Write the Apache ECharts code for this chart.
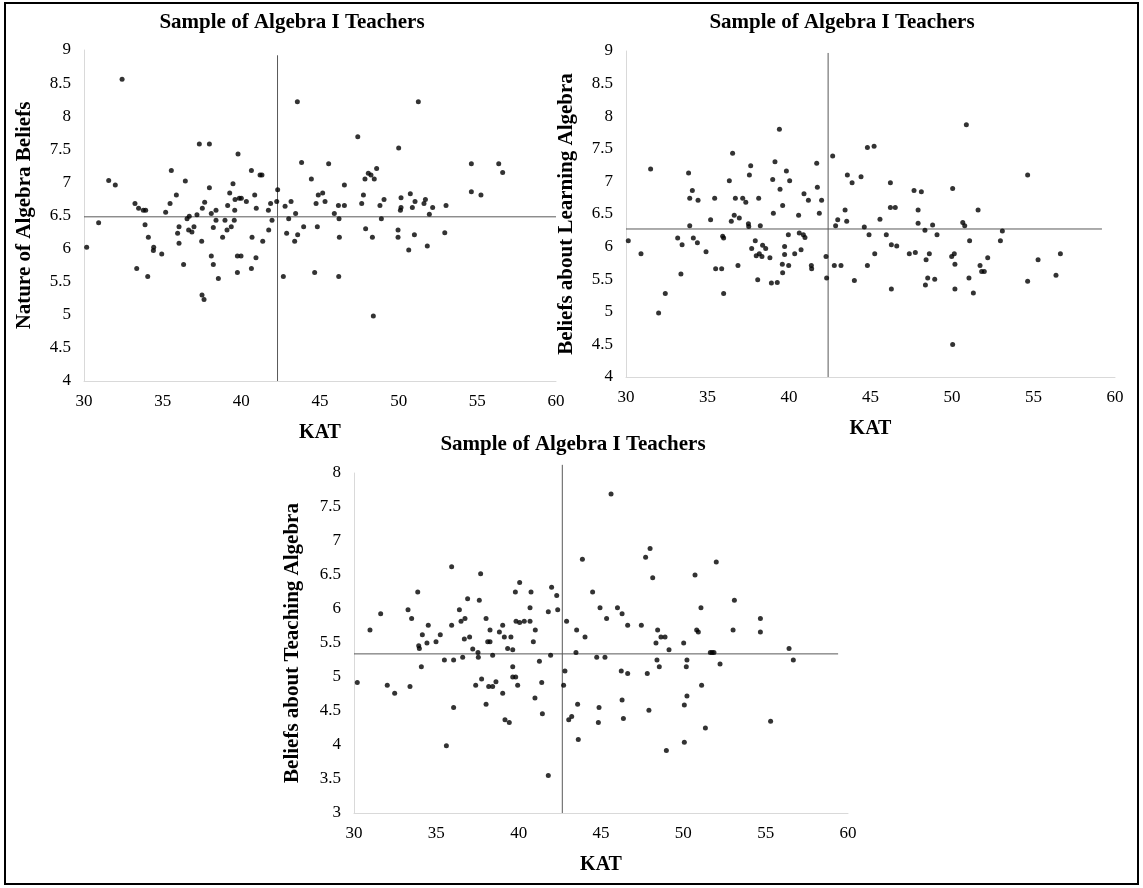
<!DOCTYPE html>
<html>
<head>
<meta charset="utf-8">
<title>Sample of Algebra I Teachers</title>
<script src="https://cdn.jsdelivr.net/npm/echarts@6/dist/echarts.min.js"></script>
<style>
  html, body { margin: 0; padding: 0; background: #fff; }
  #chart { width: 1143px; height: 888px; }
</style>
</head>
<body>
<div id="chart"></div>
<script>
// [KAT, score] pairs
var nature = [
  [30.17,6.02],[30.93,6.39],[32.42,8.56],[31.57,7.03],[31.99,6.96],[33.24,6.68],[33.47,6.61],[33.77,6.58],[33.92,6.58],[33.88,6.36],
  [34.09,6.17],[34.43,6.02],[34.41,5.97],[34.94,5.92],[33.35,5.70],[34.05,5.58],[35.19,6.55],[35.47,6.68],[35.55,7.18],[35.87,6.81],
  [36.44,7.02],[36.04,6.33],[35.95,6.23],[36.04,6.08],[36.33,5.76],[36.55,6.45],[36.69,6.49],[36.65,6.28],[36.86,6.25],[36.99,6.33],
  [37.18,6.51],[37.33,7.58],[37.97,7.58],[37.97,6.92],[37.67,6.70],[37.52,6.61],[37.48,6.11],[37.50,5.30],[37.63,5.23],[38.09,6.53],
  [38.39,6.58],[38.39,6.43],[38.22,6.32],[38.09,5.89],[38.22,5.76],[38.54,5.55],[38.81,6.17],[38.96,6.43],[39.09,6.28],[39.13,6.65],
  [39.26,6.84],[39.47,6.98],[39.36,6.33],[39.55,6.43],[39.58,6.58],[39.60,6.74],[39.79,7.43],[39.87,6.76],[40.00,6.76],[39.75,5.89],
  [39.98,5.89],[39.75,5.64],[40.32,6.71],[40.64,7.18],[40.68,6.17],[40.64,5.70],[40.85,6.81],[41.19,7.11],[41.31,7.11],[40.95,6.61],
  [40.93,5.86],[41.36,6.11],[41.72,6.58],[41.86,6.68],[41.95,6.43],[41.74,6.28],[42.31,6.89],[42.25,6.71],[42.67,5.58],[42.78,6.64],
  [43.01,6.45],[43.16,6.71],[42.88,6.23],[43.56,8.22],[43.45,6.53],[43.39,6.11],[43.58,6.21],[43.83,7.30],[43.96,6.33],[44.45,7.05],
  [44.75,6.68],[44.89,6.81],[45.17,6.84],[45.32,6.71],[44.83,6.33],[44.66,5.64],[45.55,7.28],[45.91,6.53],[46.17,6.65],[46.21,6.45],
  [46.23,6.17],[46.19,5.58],[46.55,6.65],[46.55,6.96],[47.40,7.69],[47.86,7.05],[48.07,7.14],[48.24,7.11],[48.45,7.05],[48.60,7.21],
  [47.76,6.81],[47.65,6.68],[48.81,6.65],[49.07,6.74],[48.90,6.45],[47.90,6.30],[48.33,6.17],[48.39,4.98],[50.00,7.52],[50.15,6.77],
  [50.15,6.62],[50.11,6.58],[49.96,6.28],[49.96,6.17],[50.74,6.83],[51.04,6.71],[50.87,6.62],[50.64,5.98],[51.25,8.22],[51.00,6.21],
  [51.61,6.68],[51.70,6.74],[51.95,6.52],[52.16,6.62],[51.82,6.04],[53.01,6.65],[52.93,6.24],[54.62,7.28],[54.62,6.86],[55.23,6.81],
  [56.36,7.28],[56.61,7.15]
];

var learning = [
  [30.14,6.09],[30.92,5.89],[31.51,7.19],[32.00,4.98],[32.41,5.28],[33.37,5.58],[33.17,6.13],[33.44,6.03],[33.84,7.13],[34.07,6.86],
  [33.91,6.74],[34.42,6.71],[33.91,6.32],[34.13,6.13],[34.38,6.06],[34.91,5.92],[35.19,6.41],[35.44,6.74],[35.93,6.16],[35.99,6.13],
  [35.50,5.66],[35.87,5.66],[35.99,5.28],[36.34,7.01],[36.54,7.43],[36.46,6.39],[36.64,6.48],[36.71,6.74],[36.95,6.44],[36.87,5.71],
  [37.16,6.74],[37.35,6.68],[37.51,6.35],[37.53,6.31],[37.57,7.10],[37.65,7.24],[38.14,6.74],[38.24,6.32],[37.93,6.09],[37.71,5.97],
  [37.99,5.86],[38.18,5.89],[38.38,6.02],[38.34,5.85],[38.57,5.97],[38.83,5.83],[38.08,5.49],[38.92,5.44],[39.00,7.03],[39.14,7.30],
  [39.04,6.51],[39.28,5.45],[39.41,7.80],[39.45,6.88],[39.61,6.63],[39.59,5.73],[39.61,5.60],[39.73,6.00],[39.73,5.88],[39.84,7.16],
  [40.04,7.01],[39.96,6.18],[39.98,5.71],[40.35,5.89],[40.59,6.48],[40.63,6.21],[40.74,5.95],[40.88,6.18],[40.92,6.81],[40.98,6.14],
  [41.19,6.71],[41.37,5.71],[41.39,5.66],[41.70,7.28],[41.74,6.91],[41.86,6.51],[42.00,6.71],[42.27,5.85],[42.31,5.52],[42.68,7.39],
  [42.86,6.32],[42.99,6.41],[42.78,5.71],[43.19,5.71],[43.44,6.56],[43.54,6.39],[43.58,7.10],[43.87,6.98],[44.01,5.48],[44.42,7.07],
  [44.81,7.52],[45.22,7.54],[44.62,6.30],[44.91,6.18],[44.81,5.71],[45.26,5.89],[45.58,6.42],[45.97,6.18],[46.22,6.98],[46.22,6.60],
  [46.52,6.60],[46.28,6.03],[46.61,6.01],[46.28,5.35],[47.38,5.89],[47.75,5.91],[47.67,6.86],[48.12,6.84],[47.92,6.56],[47.92,6.36],
  [48.34,6.25],[48.81,6.33],[49.08,6.18],[48.61,5.89],[48.41,5.80],[48.51,5.52],[48.94,5.50],[48.37,5.41],[50.04,6.89],[50.66,6.37],
  [50.78,6.32],[50.88,7.87],[49.98,5.85],[50.14,5.89],[50.18,5.73],[50.18,5.35],[51.08,6.09],[51.04,5.52],[51.31,5.29],[51.60,6.56],
  [51.72,5.71],[51.82,5.62],[51.98,5.62],[52.19,5.83],[52.97,6.09],[53.09,6.24],[54.64,7.10],[54.64,5.47],[55.28,5.80],[56.38,5.56],
  [56.65,5.89],[50.04,4.50]
];

var teaching = [
  [30.20,4.92],[30.97,5.69],[31.62,5.93],[32.02,4.88],[32.47,4.76],[33.28,5.99],[33.40,4.86],[33.50,5.86],[33.87,6.25],[33.93,5.46],
  [33.97,5.42],[34.09,5.15],[34.15,5.62],[34.43,5.50],[34.51,5.76],[34.98,5.52],[35.24,5.62],[35.49,5.25],[35.61,3.99],[35.93,6.62],
  [35.93,5.76],[36.05,5.25],[36.05,4.55],[36.40,5.99],[36.50,5.82],[36.60,5.29],[36.74,5.86],[36.70,5.56],[36.90,6.15],[37.02,5.59],
  [37.21,5.41],[37.39,4.88],[37.53,5.36],[37.55,5.29],[37.61,6.13],[37.69,6.52],[37.75,4.97],[38.02,5.86],[38.02,4.60],[38.12,5.52],
  [38.26,5.52],[38.26,5.69],[38.18,4.86],[38.42,5.32],[38.42,4.86],[38.62,4.93],[38.83,5.66],[39.03,5.76],[39.03,4.76],[39.13,5.59],
  [39.17,4.37],[39.43,4.33],[39.33,5.42],[39.53,5.59],[39.64,5.40],[39.64,5.15],[39.64,5.00],[39.82,5.00],[39.94,4.88],[39.80,6.25],
  [40.06,6.39],[39.84,5.82],[40.06,5.80],[40.34,5.82],[40.69,5.82],[40.75,6.25],[40.69,6.02],[40.89,5.52],[41.01,5.69],[40.99,4.69],
  [41.26,5.23],[41.40,4.92],[41.44,4.46],[41.80,5.96],[42.00,6.32],[42.31,6.20],[42.37,5.99],[41.94,5.32],[42.81,5.09],[42.73,4.88],
  [42.91,5.82],[43.48,5.36],[43.52,5.69],[43.04,4.37],[43.22,4.42],[43.58,4.60],[43.62,4.08],[41.80,3.55],[45.61,7.69],[43.87,6.73],
  [44.03,5.59],[44.49,6.25],[44.94,6.02],[45.34,5.86],[44.74,5.29],[45.24,5.29],[44.88,4.55],[44.84,4.33],[46.00,6.02],[46.28,5.93],
  [46.62,5.76],[46.23,5.09],[46.62,5.05],[46.28,4.66],[46.36,4.39],[47.45,5.76],[47.71,6.76],[47.98,6.89],[48.14,6.46],[47.81,5.05],
  [47.91,4.51],[48.44,5.69],[48.34,5.50],[48.64,5.59],[48.89,5.59],[49.13,5.40],[48.40,5.25],[48.54,5.15],[48.97,3.92],[50.02,5.50],
  [50.22,5.25],[50.18,5.15],[50.22,4.72],[50.06,4.59],[50.06,4.04],[50.71,6.50],[51.07,6.02],[50.81,5.69],[50.91,5.66],[51.11,4.88],
  [51.34,4.25],[51.64,5.36],[51.75,5.36],[51.86,5.36],[52.00,6.69],[52.23,5.19],[53.10,6.13],[53.02,5.69],[54.68,5.86],[54.68,5.66],
  [55.30,4.35],[56.42,5.42],[56.68,5.25]
];

// mean reference lines of each panel
var meanKat = [42.3, 42.4, 42.65];
var meanScore = [6.48, 6.27, 5.34];
var vLineTop = [8.92, 8.97, 8.12];
var hLineEnd = [60, 59.2, 59.4];

var yNames = ['Nature of Algebra Beliefs', 'Beliefs about Learning Algebra', 'Beliefs about Teaching Algebra'];
var yMin = [4, 4, 3];
var yMax = [9, 9, 8];
var panels = [nature, learning, teaching];

var serif = "'Liberation Serif', 'Times New Roman', Times, serif";

var chart = echarts.init(document.getElementById('chart'));

var xAxes = [], yAxes = [], series = [];
panels.forEach(function (pts, i) {
  xAxes.push({
    gridIndex: i, type: 'value', min: 30, max: 60, interval: 5,
    name: 'KAT', nameLocation: 'middle', nameGap: 42,
    nameTextStyle: {fontFamily: serif, fontWeight: 'bold', fontSize: 20, color: '#000'},
    axisLine: {onZero: false, lineStyle: {color: '#d9d9d9', width: 1}},
    axisTick: {show: false},
    splitLine: {show: false},
    axisLabel: {fontFamily: serif, fontSize: 17, color: '#000', margin: 12}
  });
  yAxes.push({
    gridIndex: i, type: 'value', min: yMin[i], max: yMax[i], interval: 0.5,
    name: yNames[i], nameLocation: 'middle', nameGap: i == 2 ? 51 : 49,
    nameTextStyle: {fontFamily: serif, fontWeight: 'bold', fontSize: 21, color: '#000'},
    axisLine: {show: true, onZero: false, lineStyle: {color: '#d9d9d9', width: 1}},
    axisTick: {show: false},
    splitLine: {show: false},
    axisLabel: {fontFamily: serif, fontSize: 17, color: '#000', margin: 13}
  });
  series.push({
    type: 'line', xAxisIndex: i, yAxisIndex: i, silent: true, symbol: 'none', clip: false,
    lineStyle: {color: '#595959', width: 1}, z: 1,
    data: [[meanKat[i], yMin[i]], [meanKat[i], vLineTop[i]]]
  });
  series.push({
    type: 'line', xAxisIndex: i, yAxisIndex: i, silent: true, symbol: 'none', clip: false,
    lineStyle: {color: '#595959', width: 1}, z: 1,
    data: [[30, meanScore[i]], [hLineEnd[i], meanScore[i]]]
  });
  series.push({
    type: 'scatter', xAxisIndex: i, yAxisIndex: i, symbol: 'circle', symbolSize: 5,
    itemStyle: {color: '#000'}, z: 3,
    data: pts
  });
});

var titleStyle = {fontFamily: serif, fontWeight: 'bold', fontSize: 21, color: '#000'};

var option = {
  animation: false,
  backgroundColor: '#fff',
  title: [
    {text: 'Sample of Algebra I Teachers', left: 292, top: 12, textAlign: 'center', padding: 0, textStyle: titleStyle},
    {text: 'Sample of Algebra I Teachers', left: 842, top: 12, textAlign: 'center', padding: 0, textStyle: titleStyle},
    {text: 'Sample of Algebra I Teachers', left: 573, top: 434, textAlign: 'center', padding: 0, textStyle: titleStyle}
  ],
  grid: [
    {left: 84, top: 50, width: 472, height: 331},
    {left: 626, top: 51, width: 489, height: 326},
    {left: 354, top: 473, width: 494, height: 340}
  ],
  xAxis: xAxes,
  yAxis: yAxes,
  series: series,
  graphic: [{
    type: 'rect', silent: true,
    shape: {x: 5, y: 3, width: 1133, height: 881},
    style: {fill: 'none', stroke: '#000', lineWidth: 2}
  }]
};

chart.setOption(option);
</script>
</body>
</html>
